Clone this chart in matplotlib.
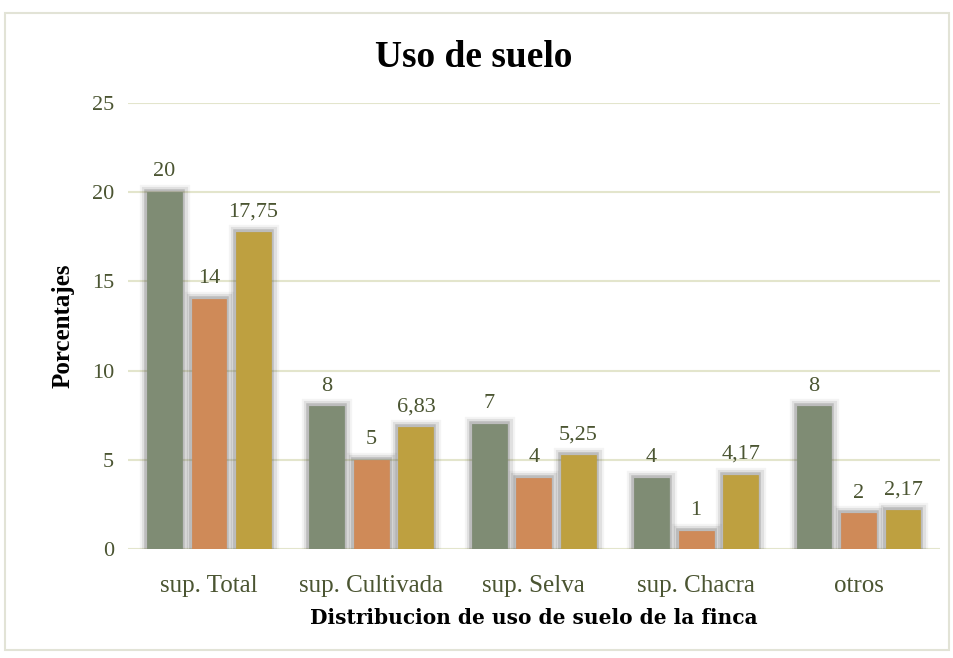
import matplotlib
matplotlib.use("Agg")
import matplotlib.pyplot as plt
import matplotlib.patheffects as pe
from matplotlib.patches import Rectangle
import numpy as np

categories = ["sup. Total", "sup. Cultivada", "sup. Selva", "sup. Chacra", "otros"]
serie_verde = [20, 8, 7, 4, 8]
serie_naranja = [14, 5, 4, 1, 2]
serie_amarilla = [17.75, 6.83, 5.25, 4.17, 2.17]
y_ticks = [0, 5, 10, 15, 20, 25]

COLORS = ["#7f8c74", "#cf8a58", "#bea040"]
TEXT = "#4b5532"
SERIF = ["Liberation Serif", "DejaVu Serif"]
WIDE_SERIF = ["DejaVu Serif"]


def fmt(v):
    s = f"{v:.2f}".rstrip("0").rstrip(".")
    return s.replace(".", ",")


fig = plt.figure(figsize=(9.54, 6.58), dpi=100)
fig.patches.append(Rectangle((5 / 954, 8 / 658), 944 / 954, 637 / 658,
                             transform=fig.transFigure, fill=False,
                             edgecolor="#e2e3d6", linewidth=1.5))

ax = fig.add_axes([0.134, 0.1657, 0.851, 0.678])
x = np.arange(len(categories))
step = 0.274
width = 0.215

# soft dark halo around the bars
glow = [pe.Stroke(linewidth=11, foreground="#505050", alpha=0.06),
        pe.Stroke(linewidth=8, foreground="#505050", alpha=0.12),
        pe.Stroke(linewidth=4, foreground="#404040", alpha=0.22),
        pe.Normal()]

for i, (vals, col) in enumerate(zip([serie_verde, serie_naranja, serie_amarilla], COLORS)):
    bars = ax.bar(x + (i - 1) * step, vals, width, color=col, zorder=3,
                  edgecolor=col, linewidth=0.5)
    for b in bars:
        b.set_path_effects(glow)
    for b, v in zip(bars, vals):
        ax.text(b.get_x() + b.get_width() / 2, v + 0.6, fmt(v),
                ha="center", va="bottom", fontsize=16, color=TEXT,
                family=SERIF, zorder=4)

ax.set_xlim(-0.5, len(categories) - 0.5)
ax.set_ylim(0, 25)
ax.set_yticks(y_ticks)
ax.set_yticklabels([str(t) for t in y_ticks], family=SERIF, fontsize=16, color=TEXT)
ax.set_xticks(x)
ax.set_xticklabels(categories, family=SERIF, fontsize=18, color=TEXT)
ax.tick_params(axis="y", length=0, pad=10)
ax.tick_params(axis="x", length=0, pad=19)
ax.grid(True, axis="y", color="#e3e5cc", linewidth=1.5, zorder=0)
for s in ax.spines.values():
    s.set_visible(False)

ax.set_xlabel("Distribucion de uso de suelo de la finca", family=WIDE_SERIF,
              fontsize=14.5, fontweight="bold", color="black", labelpad=8)
ax.set_ylabel("Porcentajes", family=SERIF, fontsize=18, fontweight="bold",
              color="black", labelpad=12)
fig.text(0.497, 0.913, "Uso de suelo", ha="center", va="center",
         family=SERIF, fontsize=27, fontweight="bold")

fig.savefig("out.png", dpi=100)
